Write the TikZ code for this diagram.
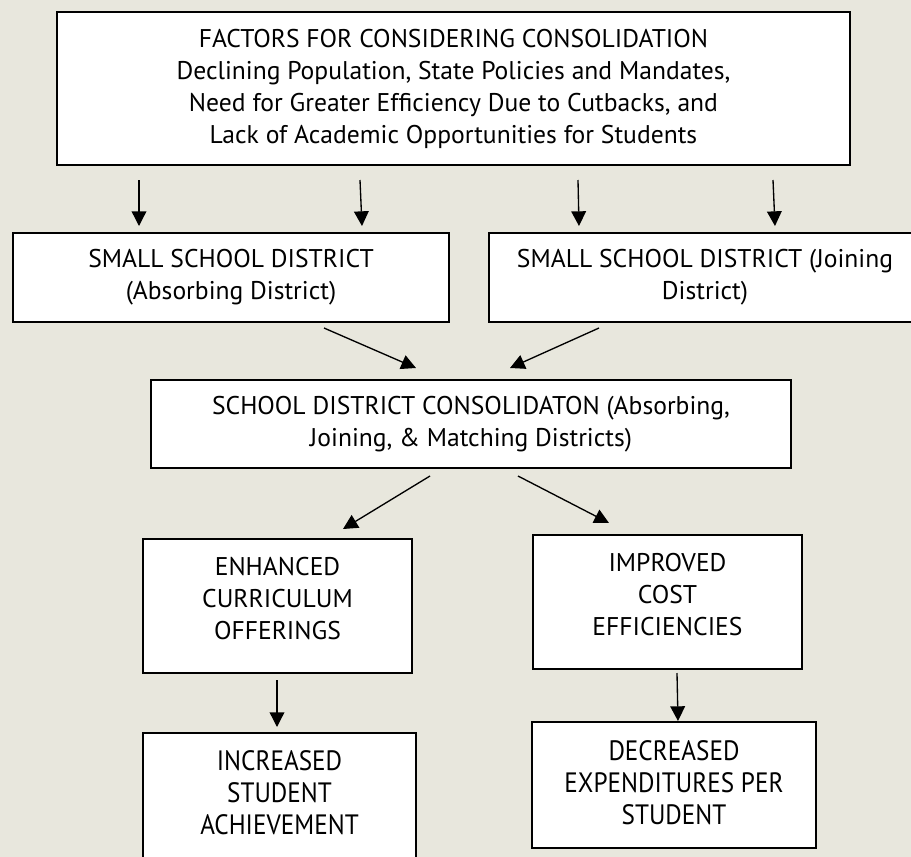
\documentclass[tikz,border=0pt]{standalone}
\usepackage{fontspec}
\setmainfont{PT Sans}
\newfontfamily\narrowfont[FakeStretch=0.9]{PT Sans}
\usetikzlibrary{arrows.meta}

\definecolor{paper}{RGB}{232,231,221}

\tikzset{
  box/.style={draw, line width=1.4pt, fill=white, align=center, inner sep=0pt,
    font=\fontsize{19.2}{24}\selectfont},
  tallbox/.style={box, font=\narrowfont\fontsize{21}{24}\selectfont},
  % text set a little above the middle of its box
  liftedtext/.style={align=center, inner sep=0pt, yshift=#1,
    font=\fontsize{19.2}{24}\selectfont},
  tallliftedtext/.style={liftedtext=#1, font=\narrowfont\fontsize{21}{24}\selectfont},
  arr/.style={line width=1pt, -{Triangle[length=11pt,width=11pt]}}
}

\begin{document}
\begin{tikzpicture}[x=0.75pt,y=0.75pt,yscale=-1,xscale=1]
%background and frame
\fill[paper] (0,0) rectangle (911,857);
\useasboundingbox (0,0) rectangle (911,857);
\clip (0,0) rectangle (911,857);

%Boxes
\node[box, minimum width=793*0.75pt, minimum height=153*0.75pt] (factors) at (453.5,88.5)
  {FACTORS FOR CONSIDERING CONSOLIDATION\\Declining Population, State Policies and Mandates,\\Need for Greater Efficiency Due to Cutbacks, and\\Lack of Academic Opportunities for Students};
\node[box, minimum width=436*0.75pt, minimum height=89*0.75pt] (absorb) at (231,277.5)
  {SMALL SCHOOL DISTRICT\\(Absorbing District)};
\node[box, minimum width=432*0.75pt, minimum height=89*0.75pt] (joining) at (705,277.5)
  {SMALL SCHOOL DISTRICT (Joining\\District)};
\node[box, minimum width=640*0.75pt, minimum height=88*0.75pt] (consol) at (471,424)
  {SCHOOL DISTRICT CONSOLIDATON (Absorbing,\\Joining, \& Matching Districts)};
\node[box, minimum width=269*0.75pt, minimum height=134*0.75pt,
  label={[liftedtext=5.25pt]center:{ENHANCED\\CURRICULUM\\OFFERINGS}}] (curric) at (277.5,606) {};
\node[box, minimum width=269*0.75pt, minimum height=134*0.75pt,
  label={[liftedtext=5.25pt]center:{IMPROVED\\COST\\EFFICIENCIES}}] (cost) at (667.5,602) {};
\node[tallbox, minimum width=273*0.75pt, minimum height=134*0.75pt,
  label={[tallliftedtext=5.25pt]center:{INCREASED\\STUDENT\\ACHIEVEMENT}}] (achieve) at (279.5,800) {};
\node[tallbox, minimum width=284*0.75pt, minimum height=126*0.75pt,
  label={[tallliftedtext=1.5pt]center:{DECREASED\\EXPENDITURES PER\\STUDENT}}] (expend) at (674,785) {};

%Arrow ends
\coordinate (f1) at (139,180);  \coordinate (a1) at (139,226);
\coordinate (f2) at (360,180);  \coordinate (a2) at (362,226);
\coordinate (f3) at (578,180);  \coordinate (j1) at (579,226);
\coordinate (f4) at (773,180);  \coordinate (j2) at (775,226);
\coordinate (a3) at (324,328);  \coordinate (c1) at (416,368);
\coordinate (j3) at (599,328);  \coordinate (c2) at (510,368);
\coordinate (c3) at (430,476);  \coordinate (e1) at (343,529);
\coordinate (c4) at (518,476);  \coordinate (i1) at (609,523);
\coordinate (e2) at (277,680);  \coordinate (s1) at (277,727);
\coordinate (i2) at (677,673);  \coordinate (d1) at (678,721);

%Straight Lines
\draw[arr] (f1) -- (a1);
\draw[arr] (f2) -- (a2);
\draw[arr] (f3) -- (j1);
\draw[arr] (f4) -- (j2);
%into the consolidation box
\draw[arr] (a3) -- (c1);
\draw[arr] (j3) -- (c2);
%outcomes
\draw[arr] (c3) -- (e1);
\draw[arr] (c4) -- (i1);
\draw[arr] (e2) -- (s1);
\draw[arr] (i2) -- (d1);
\end{tikzpicture}
\end{document}
